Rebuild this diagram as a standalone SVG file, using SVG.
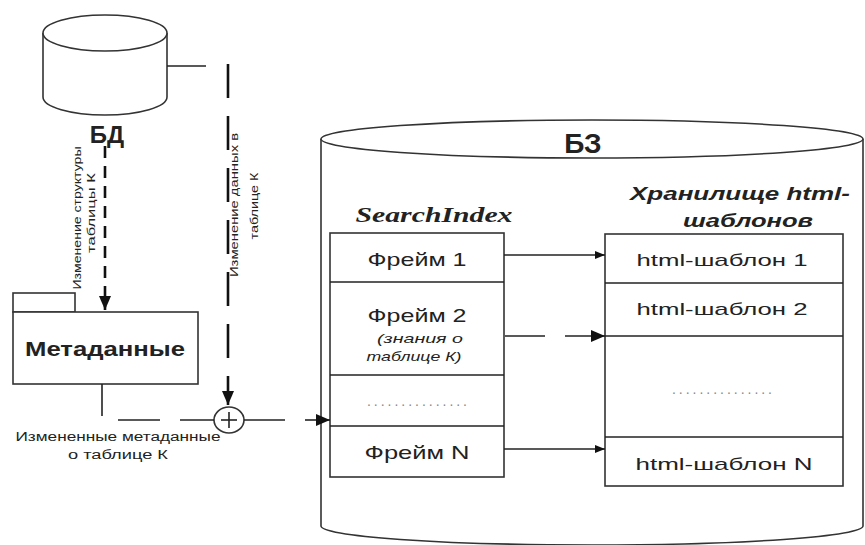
<svg xmlns="http://www.w3.org/2000/svg" width="865" height="545" viewBox="0 0 865 545">
<style>
.sh{fill:#fff;stroke:#333;stroke-width:1.6}
.ln{fill:none;stroke:#222;stroke-width:1.6}
.dl{fill:none;stroke:#111;stroke-width:2.6}
.t{font-family:"Liberation Sans",Arial,sans-serif;fill:#222}
.b{font-weight:bold}
.dots{font-family:"Liberation Sans",Arial,sans-serif;fill:#888;font-size:14px}
</style>
<defs>
<marker id="ah" markerWidth="10" markerHeight="8" refX="10" refY="4" orient="auto" markerUnits="userSpaceOnUse">
<path d="M0,0 L10,4 L0,8 Z" fill="#111"/>
</marker>
<marker id="ahb" markerWidth="14" markerHeight="12" refX="14" refY="6" orient="auto" markerUnits="userSpaceOnUse">
<path d="M0,0 L14,6 L0,12 Z" fill="#111"/>
</marker>
</defs>
<rect width="865" height="545" fill="#fff"/>

<g id="bd">
<path class="sh" d="M43,33 L43,97 A62,18 0 0 0 167,97 L167,33"/>
<ellipse class="sh" cx="105" cy="33" rx="62" ry="18"/>
<text class="t b" x="107" y="143" font-size="24" text-anchor="middle">БД</text>
</g>

<g id="metadata">
<rect class="sh" x="13" y="293" width="62" height="19"/>
<rect class="sh" x="13" y="312" width="185" height="72"/>
<text class="t b" x="105" y="356" font-size="20" text-anchor="middle" textLength="160" lengthAdjust="spacingAndGlyphs">Метаданные</text>
</g>

<g id="bz">
<path class="sh" d="M321,139 L321,526 A271,19 0 0 0 863,526 L863,139"/>
<ellipse class="sh" cx="592" cy="139" rx="271" ry="19"/>
<text class="t b" x="583" y="153" font-size="28" text-anchor="middle">БЗ</text>
</g>

<g id="searchindex">
<text x="434" y="222" font-family="'Liberation Serif','Times New Roman',serif" font-weight="bold" font-style="italic" font-size="21" fill="#222" text-anchor="middle" textLength="157" lengthAdjust="spacingAndGlyphs">SearchIndex</text>
<rect class="sh" x="330" y="233" width="174" height="244"/>
<line class="ln" x1="330" y1="282" x2="504" y2="282"/>
<line class="ln" x1="330" y1="375" x2="504" y2="375"/>
<line class="ln" x1="330" y1="426" x2="504" y2="426"/>
<text class="t" x="417" y="266" font-size="19" text-anchor="middle" textLength="99" lengthAdjust="spacingAndGlyphs">Фрейм 1</text>
<text class="t" x="417" y="322" font-size="19" text-anchor="middle" textLength="99" lengthAdjust="spacingAndGlyphs">Фрейм 2</text>
<text class="t" x="420" y="343" font-size="13" font-style="italic" text-anchor="middle" textLength="86" lengthAdjust="spacingAndGlyphs">(знания о</text>
<text class="t" x="414" y="361" font-size="13" font-style="italic" text-anchor="middle" textLength="95" lengthAdjust="spacingAndGlyphs">таблице К)</text>
<text class="dots" x="417" y="406" text-anchor="middle" textLength="100" lengthAdjust="spacing">...............</text>
<text class="t" x="417" y="459" font-size="19" text-anchor="middle" textLength="105" lengthAdjust="spacingAndGlyphs">Фрейм N</text>
</g>

<g id="templates">
<text class="t b" x="740" y="200" font-size="18" font-style="italic" text-anchor="middle" textLength="220" lengthAdjust="spacingAndGlyphs">Хранилище html-</text>
<text class="t b" x="748" y="227" font-size="18" font-style="italic" text-anchor="middle" textLength="130" lengthAdjust="spacingAndGlyphs">шаблонов</text>
<rect class="sh" x="605" y="234" width="238" height="252"/>
<line class="ln" x1="605" y1="283" x2="843" y2="283"/>
<line class="ln" x1="605" y1="336" x2="843" y2="336"/>
<line class="ln" x1="605" y1="437" x2="843" y2="437"/>
<text class="t" x="722" y="266" font-size="17" text-anchor="middle" textLength="171" lengthAdjust="spacingAndGlyphs">html-шаблон 1</text>
<text class="t" x="722" y="315" font-size="17" text-anchor="middle" textLength="171" lengthAdjust="spacingAndGlyphs">html-шаблон 2</text>
<text class="dots" x="722" y="394" text-anchor="middle" textLength="100" lengthAdjust="spacing">...............</text>
<text class="t" x="724" y="470" font-size="17" text-anchor="middle" textLength="177" lengthAdjust="spacingAndGlyphs">html-шаблон N</text>
</g>

<g id="merge">
<ellipse class="sh" cx="229" cy="420" rx="15" ry="13"/>
<line class="ln" x1="221" y1="420" x2="237" y2="420" stroke-width="2"/>
<line class="ln" x1="229" y1="412" x2="229" y2="428" stroke-width="2"/>
</g>

<g id="connectors">
<line class="ln" x1="167" y1="66" x2="206" y2="66" stroke-width="2.2"/>
<line class="dl" x1="228" y1="64" x2="228" y2="405" stroke-dasharray="34 18" marker-end="url(#ahb)"/>
<line class="dl" x1="105" y1="146" x2="105" y2="310" stroke-dasharray="12 8" marker-end="url(#ahb)"/>
<line class="ln" x1="102" y1="384" x2="102" y2="416" stroke-width="2.2"/>
<line class="ln" x1="118" y1="420" x2="160" y2="420" stroke-width="2.2"/>
<line class="ln" x1="180" y1="420" x2="214" y2="420" stroke-width="2.2"/>
<line class="ln" x1="244" y1="420" x2="285" y2="420" stroke-width="2.2"/>
<line class="ln" x1="305" y1="420" x2="330" y2="420" stroke-width="2.2" marker-end="url(#ahb)"/>
<line class="ln" x1="504" y1="255" x2="605" y2="255" marker-end="url(#ah)"/>
<line class="ln" x1="505" y1="336" x2="545" y2="336" stroke-width="2.4"/>
<line class="ln" x1="565" y1="336" x2="605" y2="336" stroke-width="2.4" marker-end="url(#ahb)"/>
<line class="ln" x1="504" y1="449" x2="605" y2="449" marker-end="url(#ah)"/>
</g>

<g id="labels">
<text class="t" transform="translate(81,218) rotate(-90)" font-size="11" text-anchor="middle" textLength="143" lengthAdjust="spacingAndGlyphs">Изменение структуры</text>
<text class="t" transform="translate(95,213) rotate(-90)" font-size="11" text-anchor="middle" textLength="80" lengthAdjust="spacingAndGlyphs">таблицы К</text>
<text class="t" transform="translate(238,205) rotate(-90)" font-size="11" text-anchor="middle" textLength="144" lengthAdjust="spacingAndGlyphs">Изменение данных в</text>
<text class="t" transform="translate(258,206) rotate(-90)" font-size="11" text-anchor="middle" textLength="67" lengthAdjust="spacingAndGlyphs">таблице К</text>
<text class="t" x="118" y="441" font-size="12" text-anchor="middle" textLength="205" lengthAdjust="spacingAndGlyphs">Измененные метаданные</text>
<text class="t" x="118" y="459" font-size="12" text-anchor="middle" textLength="100" lengthAdjust="spacingAndGlyphs">о таблице К</text>
</g>
</svg>
